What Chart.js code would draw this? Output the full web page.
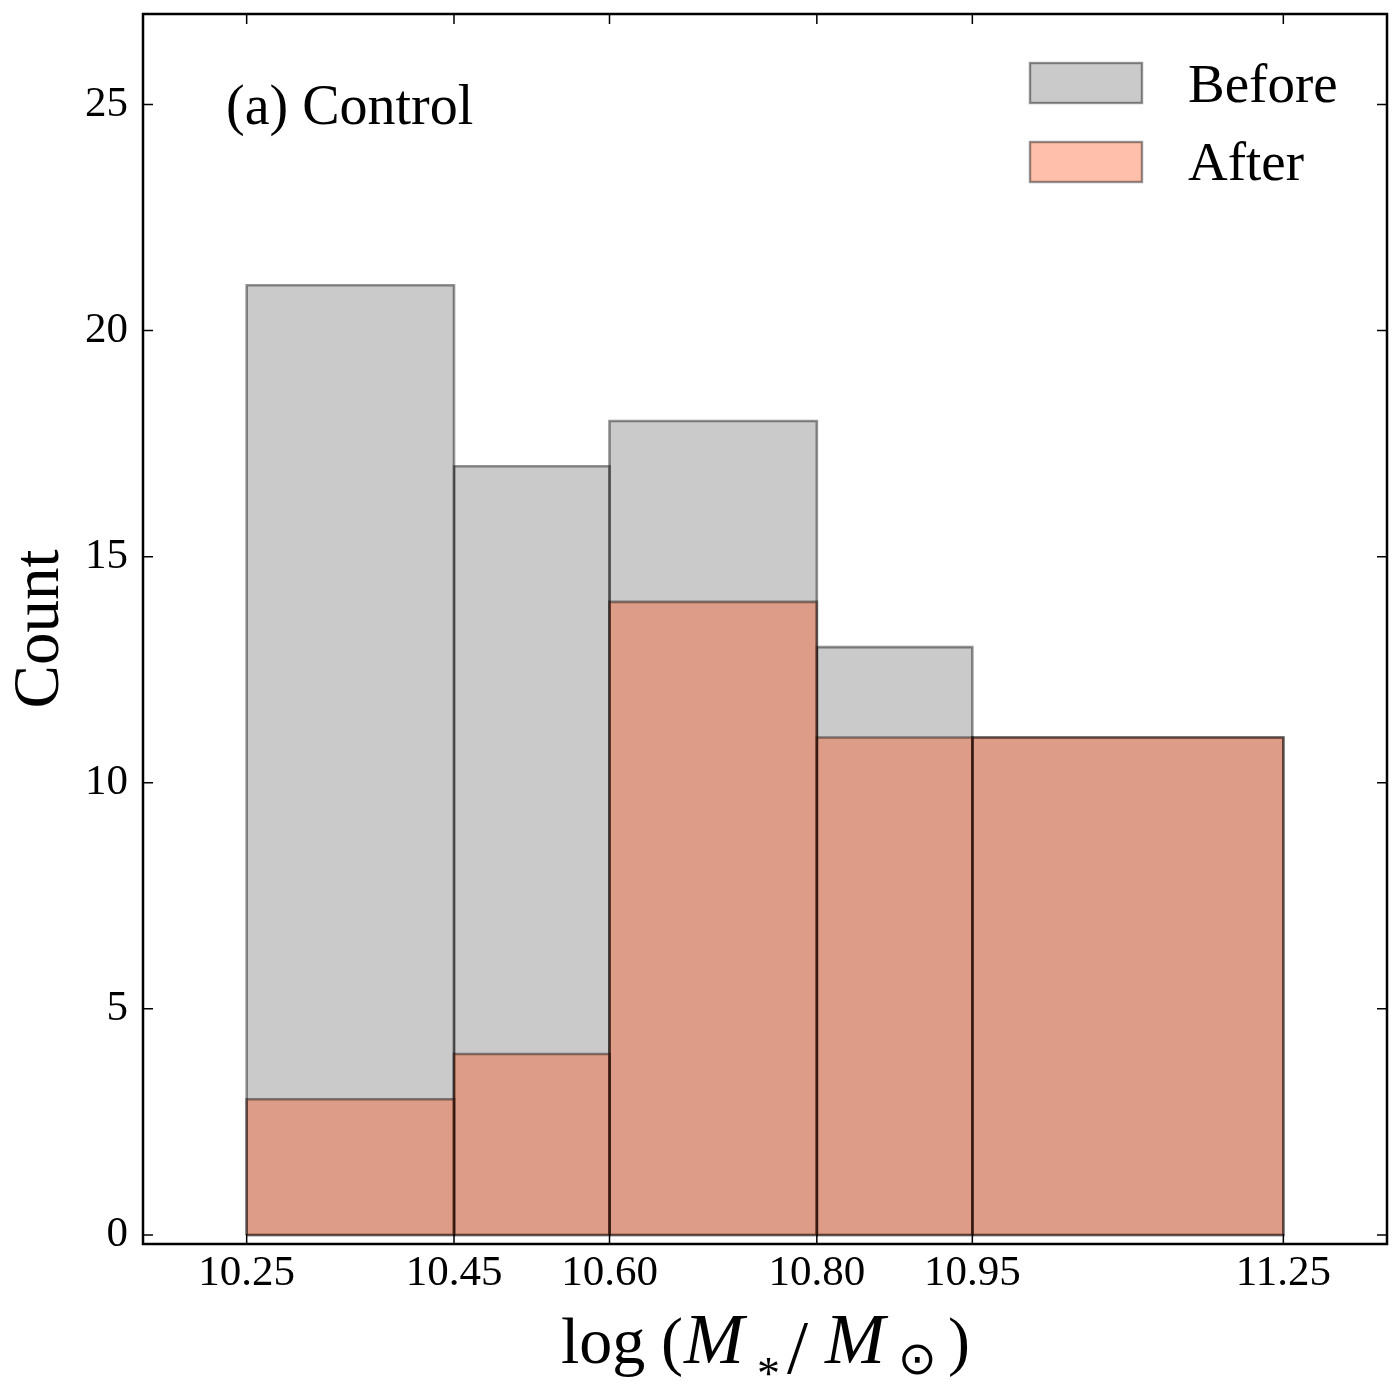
<!DOCTYPE html>
<html><head><meta charset="utf-8">
<script src="https://cdn.jsdelivr.net/npm/chart.js@4.4.0/dist/chart.umd.min.js"></script>
<style>html,body{margin:0;padding:0;background:#fff}</style>
</head><body>
<canvas id="c" width="1400" height="1400" style="width:1400px;height:1400px;display:block"></canvas>
<script>
// ---- data ----
const binEdges = [10.25, 10.45, 10.60, 10.80, 10.95, 11.25];
const beforeCounts = [21, 17, 18, 13, 11];
const afterCounts = [3, 4, 14, 11, 11];
const yTickValues = [0, 5, 10, 15, 20, 25];
const seriesNames = ['Before', 'After'];
const panelLabel = '(a) Control';
const yTitle = 'Count';

// ---- styles ----
const beforeFill = 'rgba(128,128,128,0.42)';
const afterFill = 'rgba(255,63,0,0.335)';
const edgeColor = 'rgba(0,0,0,0.42)';
const SERIF = "'Liberation Serif', 'Times New Roman', serif";

function barDatasets(counts, name, fill, order) {
  return counts.map((v, i) => ({
    label: name,
    data: [
      {x: binEdges[i], y: 0}, {x: binEdges[i], y: v},
      {x: binEdges[i + 1], y: v}, {x: binEdges[i + 1], y: 0},
      {x: binEdges[i], y: 0}
    ],
    showLine: true, fill: 'shape',
    backgroundColor: fill, borderColor: edgeColor, borderWidth: 2.6,
    pointRadius: 0, pointHoverRadius: 0, tension: 0,
    borderJoinStyle: 'miter', order: order
  }));
}

const framePlugin = {
  id: 'frame',
  afterDraw(chart) {
    const {ctx, chartArea: a, scales: {x, y}} = chart;
    ctx.save();
    // inward ticks on all four sides
    ctx.strokeStyle = '#000';
    ctx.lineWidth = 1.5;
    const L = 10;
    ctx.beginPath();
    binEdges.forEach(v => {
      const px = x.getPixelForValue(v);
      ctx.moveTo(px, a.bottom); ctx.lineTo(px, a.bottom - L);
      ctx.moveTo(px, a.top); ctx.lineTo(px, a.top + L);
    });
    yTickValues.forEach(v => {
      const py = y.getPixelForValue(v);
      ctx.moveTo(a.left, py); ctx.lineTo(a.left + L, py);
      ctx.moveTo(a.right, py); ctx.lineTo(a.right - L, py);
    });
    ctx.stroke();
    // frame
    ctx.lineWidth = 2.5;
    ctx.strokeRect(a.left, a.top, a.right - a.left, a.bottom - a.top);

    // panel label
    ctx.fillStyle = '#000';
    ctx.textAlign = 'left';
    ctx.textBaseline = 'alphabetic';
    ctx.font = '56px ' + SERIF;
    ctx.fillText(panelLabel, a.left + 83, a.top + 110);

    // legend
    const fills = [beforeFill, afterFill];
    const boxTops = [a.top + 49, a.top + 128];
    const baselines = [a.top + 88, a.top + 166];
    seriesNames.forEach((n, i) => {
      ctx.fillStyle = fills[i];
      ctx.fillRect(a.right - 357, boxTops[i], 112, 40);
      ctx.strokeStyle = edgeColor;
      ctx.lineWidth = 2.4;
      ctx.strokeRect(a.right - 357, boxTops[i], 112, 40);
      ctx.fillStyle = '#000';
      ctx.font = '55px ' + SERIF;
      ctx.fillText(n, a.right - 199, baselines[i]);
    });

    // x axis title: log (M_* / M_sun), pieces placed relative to the axis centre
    const c = (a.left + a.right) / 2;
    const base = a.bottom + 119;
    const pieces = [
      {t: 'log', f: '66px ' + SERIF, dx: -204, dy: 0},
      {t: '(', f: '66px ' + SERIF, dx: -104, dy: 0},
      {t: 'M', f: 'italic 72px ' + SERIF, dx: -81, dy: 0},
      {t: '*', f: '46px ' + SERIF, dx: -8, dy: 26},
      {t: '/', f: '76px ' + SERIF, dx: 22, dy: 10},
      {t: 'M', f: 'italic 72px ' + SERIF, dx: 60, dy: 0},
      {t: '\u2299', f: "46px 'DejaVu Sans'", dx: 133, dy: 11},
      {t: ')', f: '66px ' + SERIF, dx: 183, dy: 0}
    ];
    pieces.forEach(p => {
      ctx.font = p.f;
      ctx.fillText(p.t, c + p.dx, base + p.dy);
    });
    ctx.restore();
  }
};

new Chart(document.getElementById('c'), {
  type: 'scatter',
  data: {
    datasets: [
      ...barDatasets(afterCounts, seriesNames[1], afterFill, 0),
      ...barDatasets(beforeCounts, seriesNames[0], beforeFill, 1)
    ]
  },
  options: {
    responsive: false,
    animation: false,
    devicePixelRatio: 1,
    layout: {padding: {top: 14, right: 13, left: 0, bottom: 0}},
    plugins: {legend: {display: false}, tooltip: {enabled: false}},
    scales: {
      x: {
        type: 'linear', min: 10.15, max: 11.35,
        afterBuildTicks: s => { s.ticks = binEdges.map(v => ({value: v})); },
        afterFit: s => { s.height = 156; s.paddingLeft = 0; s.paddingRight = 0; },
        ticks: {
          autoSkip: false, maxRotation: 0, minRotation: 0, padding: 4, color: '#000',
          font: {family: SERIF, size: 43},
          callback: v => Number(v).toFixed(2)
        },
        grid: {display: false, drawTicks: false, drawOnChartArea: false},
        border: {display: false}
      },
      y: {
        type: 'linear', min: -0.2, max: 27,
        afterBuildTicks: s => { s.ticks = yTickValues.map(v => ({value: v})); },
        afterFit: s => { s.width = 143; s.paddingTop = 0; s.paddingBottom = 0; },
        ticks: {padding: 15, color: '#000', font: {family: SERIF, size: 43}},
        grid: {display: false, drawTicks: false, drawOnChartArea: false},
        border: {display: false},
        title: {display: true, text: yTitle, color: '#000', font: {family: SERIF, size: 65}, padding: {top: 2, bottom: 0}}
      }
    }
  },
  plugins: [framePlugin]
});
</script>
</body></html>
